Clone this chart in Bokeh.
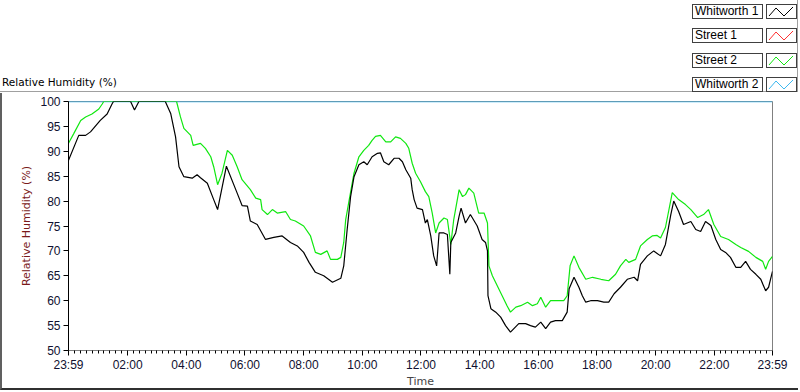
from bokeh.plotting import figure
from bokeh.layouts import column
from bokeh.models import Range1d, FixedTicker, Div
from bokeh.embed import file_html
from bokeh.resources import INLINE

# ---- data (minutes after 23:59, relative humidity %) ----
tick_minutes = [0, 121, 241, 361, 481, 601, 721, 841, 961, 1081, 1201, 1321, 1440]
tick_labels = ["23:59", "02:00", "04:00", "06:00", "08:00", "10:00", "12:00",
               "14:00", "16:00", "18:00", "20:00", "22:00", "23:59"]
y_ticks = [50, 55, 60, 65, 70, 75, 80, 85, 90, 95, 100]

w1_min = [0, 21, 35, 45, 65, 79, 89, 92, 127, 135, 144, 198, 209, 219, 226, 236, 253, 263,
          270, 284, 297, 305, 323, 345, 355, 366, 372, 386, 403, 420, 437, 454, 468, 481,
          492, 505, 522, 540, 557, 563, 570, 577, 584, 594, 604, 611, 621, 632, 638, 645,
          655, 666, 676, 683, 690, 700, 703, 707, 713, 724, 730, 734, 741, 747, 753, 758,
          768, 775, 780, 782, 792, 799, 803, 812, 822, 836, 846, 853, 857, 858, 864, 874,
          884, 894, 904, 911, 921, 935, 945, 955, 966, 976, 986, 996, 1010, 1020, 1024,
          1034, 1044, 1051, 1058, 1068, 1082, 1095, 1105, 1116, 1129, 1143, 1157, 1164,
          1170, 1184, 1197, 1211, 1221, 1232, 1238, 1248, 1258, 1273, 1283, 1293, 1303,
          1314, 1324, 1334, 1344, 1354, 1365, 1375, 1385, 1395, 1406, 1416, 1426, 1432, 1440]
w1_rh = [88.2, 93.2, 93.2, 93.9, 96.2, 97.5, 99.5, 100, 100, 98.3, 100, 100, 97.6, 92.9, 86.9,
         84.9, 84.6, 85.3, 84.7, 83.6, 80.3, 78.3, 87.0, 81.6, 79.1, 79.0, 76.0, 75.3, 72.3,
         72.7, 73.0, 71.7, 71.0, 69.7, 67.7, 65.7, 65.0, 63.7, 64.5, 67.0, 74.3, 80.9, 84.9,
         87.3, 87.9, 87.3, 88.9, 89.6, 89.7, 87.9, 87.3, 88.6, 88.6, 87.9, 86.3, 84.6, 82.3,
         80.3, 78.6, 78.3, 75.6, 76.3, 73.0, 69.0, 67.0, 73.6, 73.6, 73.3, 65.3, 71.7, 73.6,
         77.0, 78.6, 75.6, 77.3, 75.0, 72.3, 71.7, 70.0, 61.0, 58.4, 57.7, 56.7, 55.0, 53.7,
         54.4, 55.4, 55.4, 55.0, 54.7, 55.7, 54.4, 55.7, 56.0, 56.0, 57.7, 62.4, 64.7, 62.7,
         61.0, 59.7, 60.0, 60.0, 59.7, 59.7, 61.4, 62.7, 64.3, 64.7, 64.0, 67.3, 69.0, 70.0,
         69.0, 71.3, 77.3, 80.0, 77.9, 75.3, 75.9, 74.3, 73.9, 75.9, 75.1, 72.3, 70.3, 69.7,
         68.7, 66.7, 66.7, 67.9, 66.3, 65.3, 64.3, 62.0, 62.7, 65.9]

s2_min = [0, 11, 25, 35, 48, 62, 69, 72, 221, 229, 236, 250, 255, 270, 280, 291, 297, 305,
          314, 325, 335, 345, 355, 372, 383, 393, 396, 407, 417, 427, 444, 454, 464, 481,
          495, 505, 516, 529, 536, 550, 557, 563, 567, 573, 584, 594, 604, 614, 621, 628,
          638, 649, 659, 669, 679, 690, 696, 703, 710, 720, 730, 737, 744, 751, 758, 768,
          775, 782, 788, 799, 806, 812, 819, 829, 839, 850, 857, 860, 867, 877, 887, 897,
          904, 915, 925, 939, 949, 959, 966, 976, 986, 1000, 1013, 1020, 1026, 1034, 1044,
          1058, 1072, 1089, 1105, 1119, 1129, 1140, 1146, 1160, 1170, 1184, 1194, 1204, 1211,
          1221, 1235, 1248, 1262, 1273, 1287, 1299, 1309, 1320, 1334, 1350, 1365, 1375, 1391,
          1406, 1420, 1426, 1432, 1440]
s2_rh = [91.6, 93.6, 96.2, 96.9, 97.5, 98.5, 99.5, 100, 100, 96.9, 94.6, 93.2, 91.2, 91.6,
         90.6, 88.9, 86.9, 83.3, 85.6, 90.2, 89.2, 86.9, 84.3, 82.3, 80.6, 80.3, 78.3, 77.3,
         78.3, 77.6, 77.9, 76.3, 76.0, 75.0, 73.0, 69.7, 69.3, 70.0, 68.3, 68.3, 68.7, 71.7,
         76.3, 79.6, 85.6, 88.9, 90.2, 91.2, 92.2, 93.0, 93.2, 91.9, 91.9, 92.9, 92.6, 91.6,
         90.6, 87.6, 85.6, 83.9, 81.9, 80.9, 77.6, 73.6, 75.6, 76.6, 76.3, 71.3, 76.3, 82.3,
         80.9, 81.3, 82.6, 81.6, 77.6, 77.6, 75.6, 67.0, 65.0, 63.0, 61.0, 59.0, 57.7, 58.7,
         59.0, 59.7, 59.0, 59.4, 60.7, 58.7, 60.0, 60.0, 60.0, 61.0, 67.0, 69.0, 66.7, 64.3,
         64.7, 64.3, 64.0, 65.3, 67.0, 68.3, 67.7, 68.3, 71.0, 72.3, 73.0, 73.1, 72.6, 74.7,
         81.7, 80.3, 79.3, 78.3, 76.7, 77.3, 78.3, 75.3, 72.9, 72.3, 71.3, 70.7, 69.9, 68.7,
         67.9, 66.3, 67.9, 68.9]

w2_min = [0, 1440]
w2_rh = [100, 100]

s1_min = []
s1_rh = []

names = ["Whitworth 1", "Street 1", "Street 2", "Whitworth 2"]
colors = ["#000000", "#ff3030", "#10e810", "#3cb8f0"]

FONT = "DejaVu Sans"
TFONT = "Liberation Sans"

# ---------------- header strip: title + legend (HTML) ----------------
parts = ['<div style="position:relative;width:800px;height:93px;margin:0;padding:0;'
         'background:#fff;overflow:hidden;">']
parts.append('<div style="position:absolute;left:2px;top:76px;font-family:\'DejaVu Sans\';'
             'font-size:10.5px;line-height:13px;color:#000;white-space:nowrap;">'
             'Relative Humidity (%)</div>')
parts.append('<div style="position:absolute;left:0px;top:91px;width:798px;height:1px;'
             'background:#a0a0a0;"></div>')
parts.append('<div style="position:absolute;left:797px;top:0px;width:1px;height:92px;'
             'background:#a0a0a0;"></div>')
row_tops = [4, 28, 53, 77]
for name, col, top in zip(names, colors, row_tops):
    parts.append(
        f'<div style="position:absolute;left:692px;top:{top}px;width:71px;height:15px;'
        f'box-sizing:border-box;border:1px solid #404040;background:#fff;'
        f'font-family:\'Liberation Sans\';font-size:12px;line-height:13px;padding-left:2px;'
        f'color:#000;white-space:nowrap;overflow:hidden;">{name}</div>')
    parts.append(
        f'<div style="position:absolute;left:766px;top:{top}px;width:31px;height:15px;'
        f'box-sizing:border-box;border:1px solid #404040;background:#fff;">'
        f'<svg width="29" height="13" style="display:block">'
        f'<polyline points="2,11 9,3 17,11 26,2" fill="none" stroke="{col}" '
        f'stroke-width="1"/></svg></div>')
parts.append('</div>')
hdr = Div(text="".join(parts), width=800, height=93, margin=0)

# ---------------- main chart ----------------
p = figure(width=798, height=297, output_backend="svg", toolbar_location=None,
           title=None,
           x_range=Range1d(0, 1440), y_range=Range1d(50, 100),
           min_border_left=66, min_border_right=28, min_border_top=8, min_border_bottom=36)
p.styles = {"border-left": "2px solid #606060", "border-bottom": "2px solid #303030"}
p.background_fill_color = "white"
p.border_fill_color = "white"
p.outline_line_color = "#808080"
p.xgrid.visible = False
p.ygrid.visible = False

r_w2 = p.line(w2_min, w2_rh, color=colors[3], line_width=1.5)
r_s1 = p.line(s1_min, s1_rh, color=colors[1], line_width=1)
r_s2 = p.line(s2_min, s2_rh, color=colors[2], line_width=1.2)
r_w1 = p.line(w1_min, w1_rh, color=colors[0], line_width=1.2)

# y axis
yax = p.yaxis[0]
yax.ticker = FixedTicker(ticks=y_ticks, minor_ticks=[])
yax.axis_line_color = "black"
yax.major_tick_out = 5
yax.major_tick_in = 0
yax.minor_tick_line_color = None
yax.major_label_standoff = 3
yax.major_label_text_font = TFONT
yax.major_label_text_font_size = "12px"
yax.major_label_text_color = "#101030"
yax.axis_label = "Relative Humidity (%)"
yax.axis_label_text_font = FONT
yax.axis_label_text_font_size = "11px"
yax.axis_label_text_font_style = "normal"
yax.axis_label_text_color = "#7a1a1a"
yax.axis_label_standoff = 4

# x axis
minor = []
for a, b in zip(tick_minutes[:-1], tick_minutes[1:]):
    minor += [a + (b - a) * k / 10 for k in range(1, 10)]
xax = p.xaxis[0]
xax.ticker = FixedTicker(ticks=tick_minutes, minor_ticks=minor)
xax.major_label_overrides = {t: l for t, l in zip(tick_minutes, tick_labels)}
xax.axis_line_color = "#808080"
xax.major_tick_out = 5
xax.major_tick_in = 0
xax.minor_tick_out = 3
xax.minor_tick_in = 0
xax.major_tick_line_color = "black"
xax.minor_tick_line_color = "black"
xax.major_label_standoff = 2
xax.major_label_text_font = TFONT
xax.major_label_text_font_size = "12px"
xax.major_label_text_color = "#101030"
xax.axis_label = "Time"
xax.axis_label_text_font = FONT
xax.axis_label_text_font_size = "11px"
xax.axis_label_text_font_style = "normal"
xax.axis_label_standoff = 0

layout = column(hdr, p, spacing=0)
open("out.html", "w").write(file_html(layout, INLINE))
